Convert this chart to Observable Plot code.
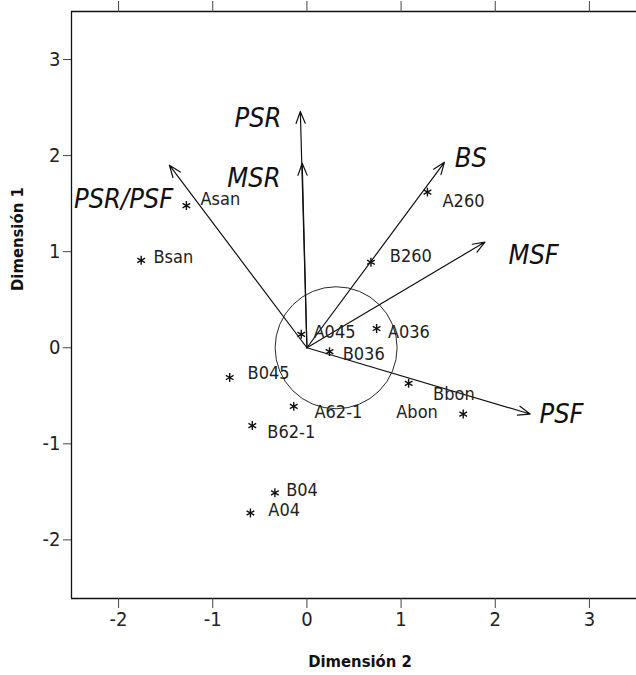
<!DOCTYPE html>
<html>
<head>
<meta charset="utf-8">
<script src="https://cdn.jsdelivr.net/npm/d3@7"></script>
<script src="https://cdn.jsdelivr.net/npm/@observablehq/plot@0.6"></script>
<style>
  html, body { margin: 0; padding: 0; background: #fff; }
  #chart { width: 636px; height: 675px; }
</style>
</head>
<body>
<div id="chart"></div>
<script>
// Sample points (Dimensión 2 = x, Dimensión 1 = y)
const pointNames = ["Asan", "Bsan", "A260", "B260", "A045", "A036", "B036", "B045", "A62-1", "B62-1", "Bbon", "Abon", "B04", "A04"];
const pointX = [-1.28, -1.76, 1.28, 0.68, -0.06, 0.74, 0.24, -0.82, -0.14, -0.58, 1.08, 1.66, -0.34, -0.60];
const pointY = [1.48, 0.91, 1.62, 0.89, 0.14, 0.20, -0.04, -0.31, -0.61, -0.81, -0.37, -0.69, -1.51, -1.72];
// Label anchor positions (data units)
const pointLabelX = [-1.13, -1.63, 1.44, 0.88, 0.07, 0.86, 0.38, -0.63, 0.08, -0.42, 1.34, 1.39, -0.22, -0.41];
const pointLabelY = [1.55, 0.94, 1.53, 0.95, 0.16, 0.16, -0.07, -0.27, -0.67, -0.88, -0.48, -0.67, -1.48, -1.69];
const pointLabelAnchor = ["start", "start", "start", "start", "start", "start", "start", "start", "start", "start", "start", "end", "start", "start"];

// Variable vectors
const varNames = ["PSR", "MSR", "PSR/PSF", "BS", "MSF", "PSF"];
const varX = [-0.07, -0.05, -1.46, 1.46, 1.89, 2.37];
const varY = [2.46, 1.92, 1.90, 1.93, 1.10, -0.69];
const varLabelX = [-0.27, -0.28, -1.42, 1.57, 2.14, 2.47];
const varLabelY = [2.39, 1.76, 1.54, 1.97, 0.96, -0.69];
const varLabelAnchor = ["end", "end", "end", "start", "start", "start"];

// Circle centre
const circleX = [0.31];
const circleY = [0.0];

const xTicks = [-2, -1, 0, 1, 2, 3];
const yTicks = [-2, -1, 0, 1, 2, 3];
const xDomain = [-2.5, 3.5];
const yDomain = [-2.61, 3.5];
const xTitle = "Dimensión 2";
const yTitle = "Dimensión 1";

const points = pointNames.map((n, i) => ({name: n, x: pointX[i], y: pointY[i], lx: pointLabelX[i], ly: pointLabelY[i], anchor: pointLabelAnchor[i]}));
const vars = varNames.map((n, i) => ({name: n, x: varX[i], y: varY[i], lx: varLabelX[i], ly: varLabelY[i], anchor: varLabelAnchor[i]}));
const circle = circleX.map((x, i) => ({x, y: circleY[i]}));

const FONT = "'Liberation Sans Narrow', 'DejaVu Sans Condensed', 'DejaVu Sans', sans-serif";
const fmt = d => (d < 0 ? "-" + Math.abs(d) : String(d));

const chart = Plot.plot({
  width: 636,
  height: 675,
  marginTop: 11,
  marginLeft: 71,
  marginRight: 0,
  marginBottom: 77,
  style: {fontFamily: FONT, fontStretch: "condensed", background: "#fff", color: "#111", overflow: "visible"},
  x: {domain: xDomain},
  y: {domain: yDomain},
  marks: [
    Plot.ruleX([xDomain[0]], {stroke: "#111", strokeWidth: 1.3}),
    Plot.ruleY([yDomain[0], yDomain[1]], {stroke: "#111", strokeWidth: 1.3}),
    Plot.axisX({anchor: "bottom", ticks: xTicks, tickFormat: fmt, tickSize: 10, tickPadding: 3, fontSize: 20, stroke: "#444", fill: "#222", label: null}),
    Plot.axisX({anchor: "top", ticks: xTicks, tickSize: 11, tickFormat: () => "", stroke: "#444", label: null}),
    Plot.axisY({anchor: "left", ticks: yTicks, tickFormat: fmt, tickSize: 8, tickPadding: 3, fontSize: 20, stroke: "#444", fill: "#222", label: null}),
    Plot.dot(circle, {x: "x", y: "y", r: 61, stroke: "#111", strokeWidth: 0.9, fill: "none"}),
    Plot.arrow(vars, {x1: 0, y1: 0, x2: "x", y2: "y", stroke: "#111", strokeWidth: 1.2, headLength: 16, headAngle: 42}),
    Plot.text(vars.filter(d => d.anchor === "end"), {x: "lx", y: "ly", text: "name", textAnchor: "end", fontSize: 27, fontStyle: "italic", fill: "#111", letterSpacing: "-0.4px"}),
    Plot.text(vars.filter(d => d.anchor === "start"), {x: "lx", y: "ly", text: "name", textAnchor: "start", fontSize: 27, fontStyle: "italic", fill: "#111", letterSpacing: "-0.4px"}),
    Plot.dot(points, {x: "x", y: "y", symbol: "asterisk", r: 4.2, stroke: "#111", strokeWidth: 1.4}),
    Plot.text(points.filter(d => d.anchor === "start"), {x: "lx", y: "ly", text: "name", textAnchor: "start", fontSize: 18, fill: "#222", letterSpacing: "-0.6px"}),
    Plot.text(points.filter(d => d.anchor === "end"), {x: "lx", y: "ly", text: "name", textAnchor: "end", fontSize: 18, fill: "#222", letterSpacing: "-0.6px"}),
    Plot.text([xTitle], {frameAnchor: "bottom", text: d => d, dx: 6, dy: 68, fontSize: 16.5, fontWeight: "bold", fill: "#111", letterSpacing: "-0.3px"}),
    Plot.text([yTitle], {frameAnchor: "left", text: d => d, rotate: -90, dx: -54, dy: -14, fontSize: 16.5, fontWeight: "bold", fill: "#111", letterSpacing: "-0.3px"})
  ]
});
document.getElementById("chart").appendChild(chart);
</script>
</body>
</html>
